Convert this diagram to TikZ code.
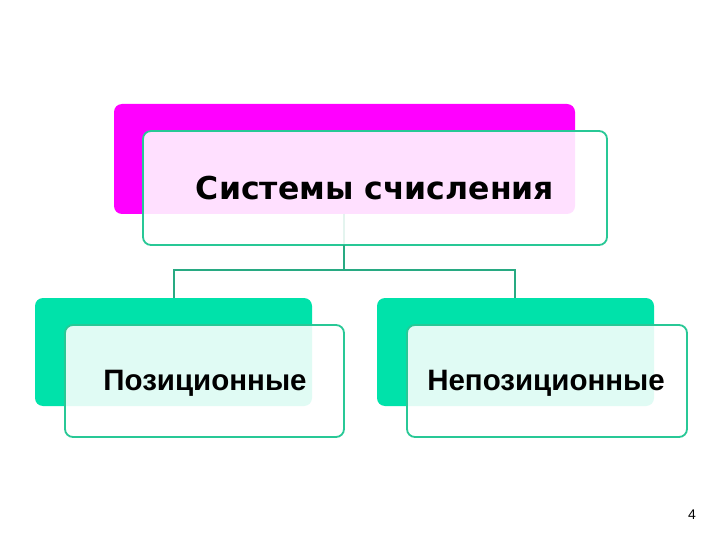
\documentclass[tikz,border=0pt]{standalone}
\usepackage{fontspec}
\setmainfont{Liberation Sans}
\newfontfamily\topfont{DejaVu Sans}
\definecolor{magb}{RGB}{255,0,255}
\definecolor{tealb}{RGB}{0,226,170}
\definecolor{tealline}{RGB}{40,200,150}
\definecolor{conn}{RGB}{40,170,130}
\begin{document}
\begin{tikzpicture}[x=1pt,y=-1pt,
  backbox/.style={rounded corners=8pt},
  frontbox/.style={draw=tealline,line width=1.8pt,rounded corners=8pt,fill=white,fill opacity=0.88},
  conline/.style={draw=conn,line width=1.5pt}]
\useasboundingbox (0,0) rectangle (720,540);
\fill[white] (0,0) rectangle (720,540);
% top
\fill[magb,backbox] (114,104) rectangle (575,214);
\coordinate (topb) at (344,214);
\draw[conline] (topb) -- (344,245);
\draw[frontbox] (143,131) rectangle (607,245);
\node[font=\topfont\bfseries\fontsize{31.5}{33}\selectfont,text=black] (top) at (375,188) {Системы счисления};
% connectors
\coordinate (tb) at (344,245);
\coordinate (j) at (344,270);
\coordinate (lj) at (174,270);
\coordinate (rj) at (515,270);
\coordinate (lt) at (174,298);
\coordinate (rt) at (515,298);
\draw[conline] (tb) -- (j);
\draw[conline] (lt) -- (lj) -- (rj) -- (rt);
% left
\fill[tealb,backbox] (35,298) rectangle (312,406);
\draw[frontbox] (65,325) rectangle (344,437);
\node[font=\bfseries\fontsize{29.5}{31}\selectfont] (left) at (205,383) {Позиционные};
% right
\fill[tealb,backbox] (377,298) rectangle (654,406);
\draw[frontbox] (407,325) rectangle (687,437);
\node[font=\bfseries\fontsize{29.5}{31}\selectfont] (right) at (546,383) {Непозиционные};
\node[font=\fontsize{14}{16}\selectfont] (pg) at (692,515) {4};
\end{tikzpicture}
\end{document}
